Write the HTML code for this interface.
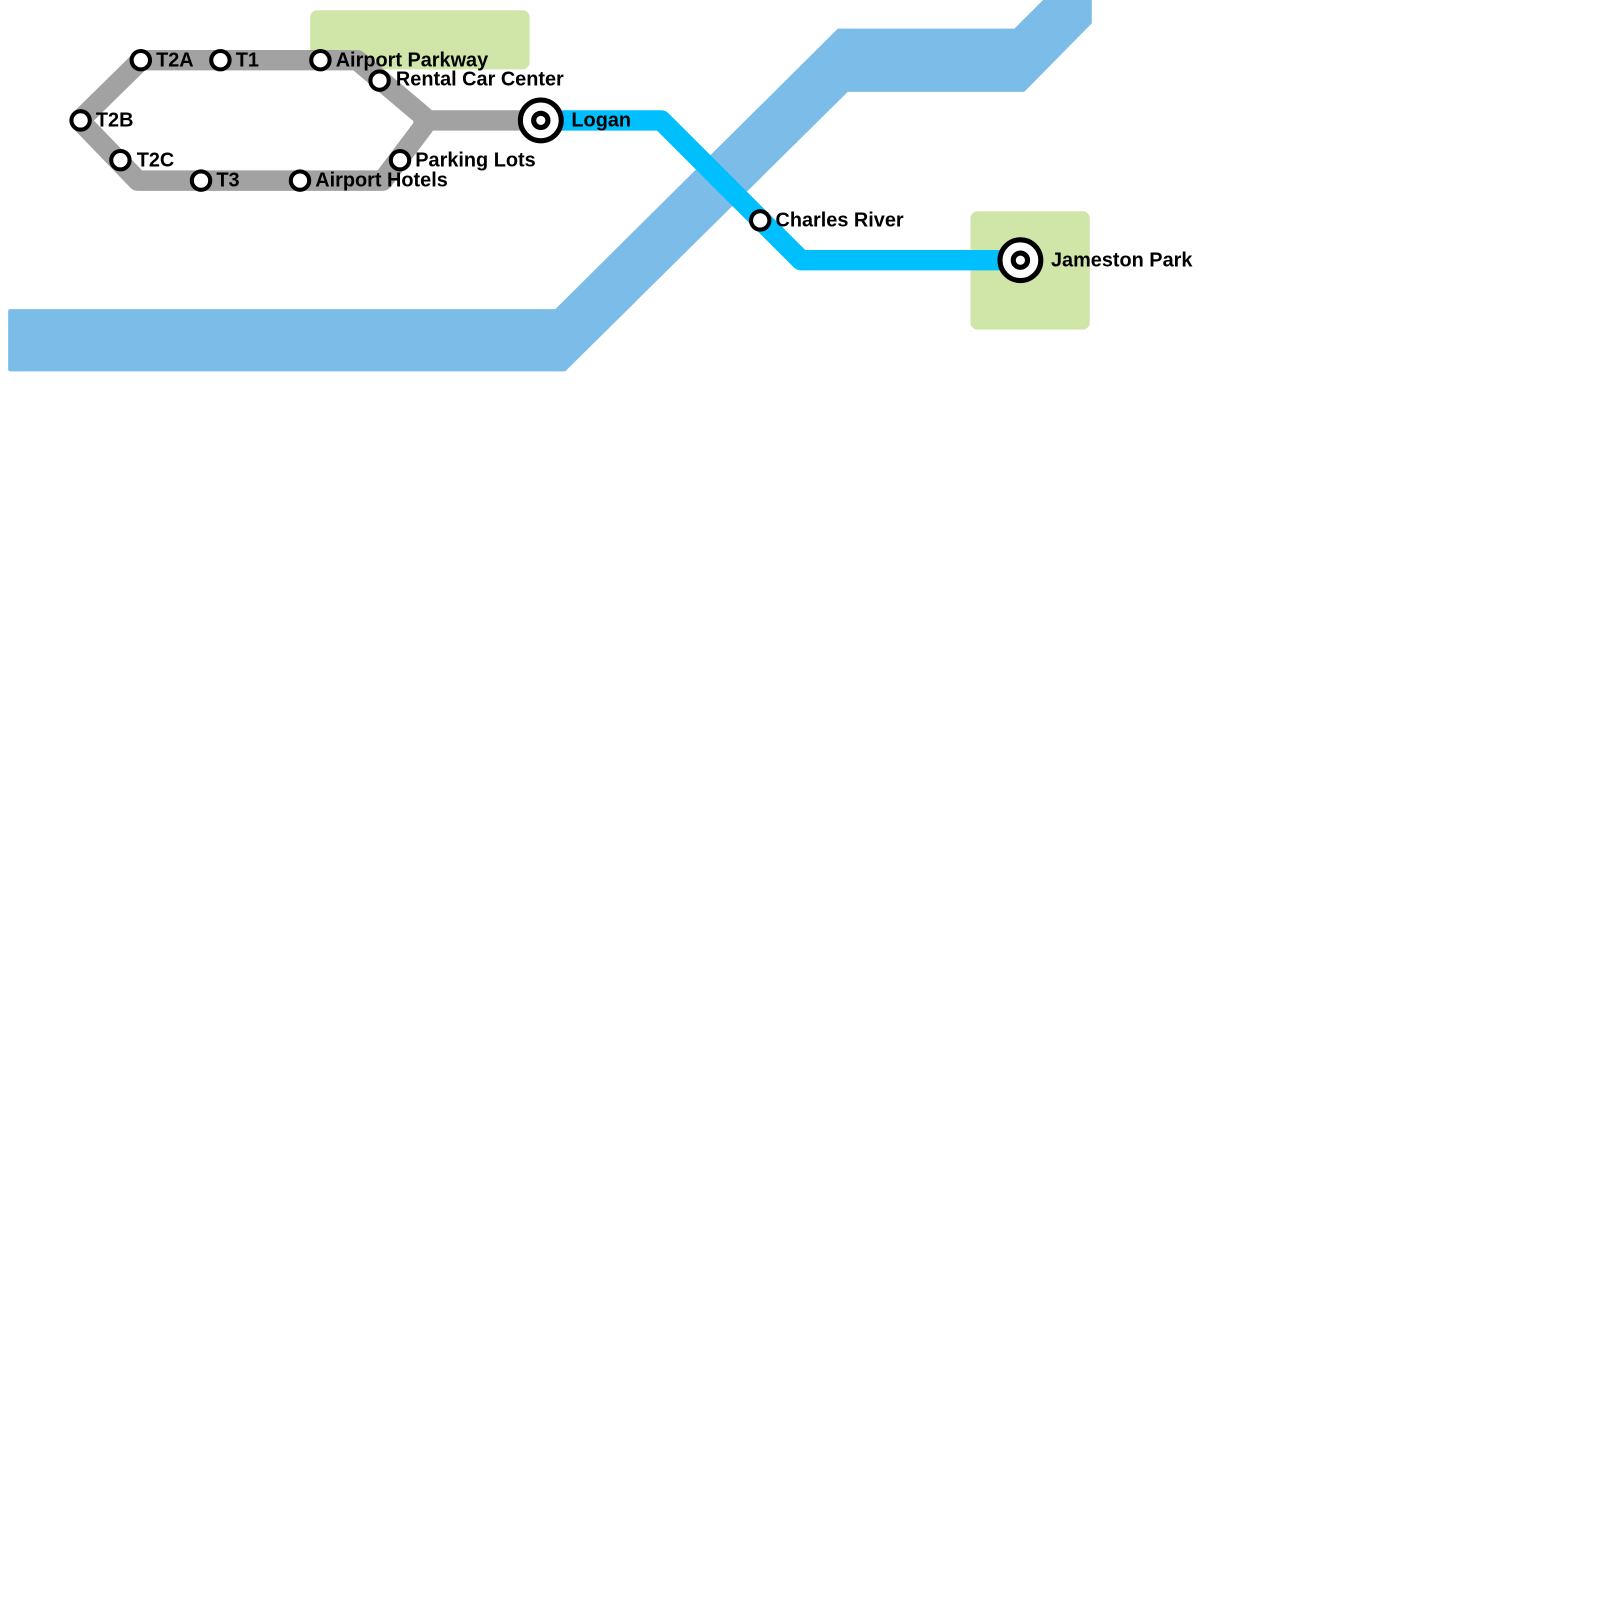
<!DOCTYPE html>
<html><head><style>body{margin:0;background:#fff}</style></head><body>
<svg width="1600" height="1600" xmlns="http://www.w3.org/2000/svg" style="display:block">
<rect width="1600" height="1600" fill="#fff"/>
<g transform="scale(1.0204)">
<polygon points="10,305 545,305 822,30 995,30 1025,0 1068,0 1068,22 1003,88 830,88 553,362 10,362" fill="#7bbde8" stroke="#7bbde8" stroke-width="4" stroke-linejoin="round"/>
<rect x="304" y="10" width="215" height="58" rx="7" fill="#d0e5a8"/>
<rect x="951" y="207" width="117" height="116" rx="7" fill="#d0e5a8"/>
<g fill="none" stroke="#a2a2a2" stroke-width="20" stroke-linejoin="round">
<polyline points="138,59 350,59 415,114 415,124 375,177 135,177 78,118 138,59"/>
<polyline points="415,118 530,118"/>
</g>
<polyline points="530,118 648,118 785,255 1000,255" fill="none" stroke="#00bfff" stroke-width="20" stroke-linejoin="round"/>
<g fill="#fff" stroke="#000" stroke-width="4">
<circle cx="138" cy="59" r="9"/><circle cx="216" cy="59" r="9"/><circle cx="314" cy="59" r="9"/>
<circle cx="372" cy="79" r="9"/><circle cx="79" cy="118" r="9"/><circle cx="118" cy="157" r="9"/>
<circle cx="197" cy="177" r="9"/><circle cx="294" cy="177" r="9"/><circle cx="392" cy="157" r="9"/>
<circle cx="745" cy="216" r="9"/>
</g>
<g fill="#fff" stroke="#000">
<circle cx="530" cy="118" r="20" stroke-width="5"/><circle cx="530" cy="118" r="7" stroke-width="5"/>
<circle cx="1000" cy="255" r="20" stroke-width="5"/><circle cx="1000" cy="255" r="7" stroke-width="5"/>
</g>
<g font-family="Liberation Sans, sans-serif" font-weight="bold" font-size="19.5" fill="#000">
<text x="153" y="65">T2A</text><text x="231" y="65">T1</text><text x="329" y="65">Airport Parkway</text>
<text x="388" y="84">Rental Car Center</text><text x="94" y="124">T2B</text><text x="134" y="163">T2C</text>
<text x="212" y="183">T3</text><text x="309" y="183">Airport Hotels</text><text x="407" y="163">Parking Lots</text>
<text x="560" y="124">Logan</text><text x="760" y="222">Charles River</text><text x="1030" y="261">Jameston Park</text>
</g>
</g>
</svg>
</body></html>
